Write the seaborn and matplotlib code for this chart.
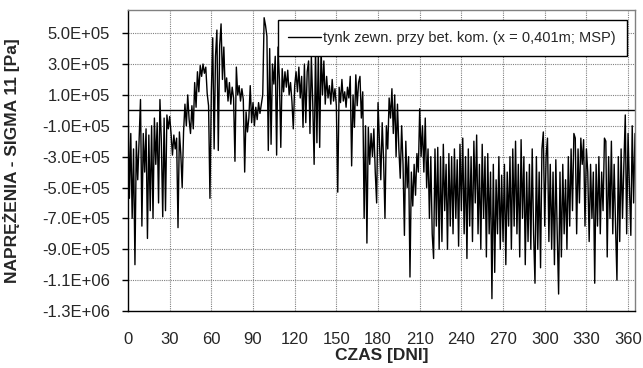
import numpy as np
import pandas as pd
import matplotlib
matplotlib.use("Agg")
import matplotlib.pyplot as plt
import seaborn as sns

# stress values in units of 1e5 Pa, one value per day (day 0 .. 365)
sigma_e5 = [
    0.9, -5.7, -1.5, -7.0, -2.5, -10.0, -2.0, -4.5, -1.8, 0.7,
    -7.5, -1.5, -4.0, -1.2, -8.3, -1.6, -6.5, -1.0, -7.0, -0.5,
    -3.5, -0.8, -6.0, 0.7, -2.0, -6.9, -0.5, -6.5, -0.3, -1.2,
    -0.4, -1.5, -2.9, -1.6, -2.5, -1.8, -7.6, -1.4, -2.8, -5.0,
    -1.4, 0.4, -1.0, 1.0, -0.6, -1.5, 0.3, -1.2, 1.8, 0.2,
    2.5, 1.2, 2.9, 2.2, 3.0, 2.4, 2.8, 1.1, 0.3, -5.7,
    1.2, 4.7, -2.5, 3.5, 5.2, -2.6, 4.2, 5.6, 2.0, 4.1,
    1.2, 2.1, 0.6, 1.8, 0.4, 1.5, 0.8, -3.3, 2.8, 1.0,
    1.6, 0.6, 1.4, 0.7, -4.0, -0.1, -1.4, -0.5, 1.6, -0.8,
    0.5, -1.0, 0.2, -0.6, 0.5, -0.2, 0.4, 1.0, 6.0, 5.5,
    4.8, -2.6, 4.0, -2.2, 3.0, 1.7, 3.5, -2.9, 4.1, 2.0,
    -2.4, 2.7, 1.2, 2.5, 1.5, 2.6, 1.0, 1.8, 0.6, -1.2,
    1.6, 2.5, 1.2, 2.8, 0.8, 2.2, -1.1, 3.0, -0.8, 2.5,
    3.2, -1.5, 3.5, 0.5, -3.5, 4.0, -2.1, 3.8, -2.4, 4.0,
    1.0, 3.2, 0.4, 2.2, 0.8, 1.6, 0.4, 2.0, 0.6, 1.4,
    0.3, -5.3, 1.5, 0.5, 2.0, 0.6, 1.2, 0.2, 1.5, 0.8,
    2.2, -3.6, 1.0, -1.1, 2.3, 0.3, 1.8, 2.2, -0.5, 1.2,
    -7.0, -1.0, -8.6, -1.1, -3.5, -1.5, -3.0, -1.2, -4.0, -6.0,
    0.5, -2.0, -4.5, -0.8, -3.2, -7.0, -1.0, -2.5, 0.8, -0.5,
    1.4, -1.5, 1.0, -3.0, 0.4, -2.5, -4.4, -1.0, -3.5, -8.1,
    -2.0, -5.0, -3.0, -10.8, -4.0, -6.2, -3.5, -5.5, -2.8, -4.0,
    0.1, -3.0, -1.0, -4.0, -0.5, -5.0, -2.5, -7.0, -3.0, -8.0,
    -9.6, -2.5, -7.5, -2.4, -9.0, -3.0, -8.5, -2.2, -6.5, -3.5,
    -9.0, -2.8, -7.5, -3.0, -8.0, -2.5, -7.0, -3.2, -8.8, -2.2,
    -6.5, -1.8, -8.0, -3.0, -9.6, -2.5, -7.5, -3.0, -8.5, -2.0,
    -6.0, -1.6, -8.0, -3.5, -9.0, -2.2, -7.0, -3.0, -9.5, -2.8,
    -8.0, -4.0, -12.2, -3.5, -10.5, -4.5, -8.0, -3.0, -9.0, -4.2,
    -8.5, -3.5, -10.0, -4.0, -7.5, -3.0, -9.0, -2.5, -7.5, -2.0,
    -8.0, -3.5, -9.5, -1.9, -7.0, -3.0, -10.0, -4.0, -8.5, -3.5,
    -9.0, -2.5, -8.0, -11.2, -3.0, -9.0, -4.0, -10.2, -2.5, -1.4,
    -7.5, -3.0, -1.8, -8.5, -3.5, -9.0, -4.0, -10.0, -3.2, -8.0,
    -11.9, -4.0, -9.5, -3.5, -8.0, -4.5, -9.0, -3.0, -7.5, -2.5,
    -6.5, -1.5, -1.8, -8.0, -2.5, -6.0, -1.8, -3.5, -1.9, -7.5,
    -2.5, -4.0, -8.5, -3.5, -7.0, -4.0, -11.2, -3.5, -7.5, -3.0,
    -8.0, -4.0, -6.5, -1.8, -2.0, -9.5, -3.0, -7.0, -2.0, -8.0,
    -3.5, -7.5, -11.0, -3.0, -8.5, -2.5, -7.0, -3.5, -0.3, -8.0,
    -1.5, -5.0, -8.1, -1.0, -6.0, -1.5,
]
days = list(range(len(sigma_e5)))

x_ticks = [0, 30, 60, 90, 120, 150, 180, 210, 240, 270, 300, 330, 360]
y_ticks = [5e5, 3e5, 1e5, -1e5, -3e5, -5e5, -7e5, -9e5, -1.1e6, -1.3e6]
y_tick_labels = ["5.0E+05", "3.0E+05", "1.0E+05", "-1.0E+05", "-3.0E+05",
                 "-5.0E+05", "-7.0E+05", "-9.0E+05", "-1.1E+06", "-1.3E+06"]
series_label = "tynk zewn. przy bet. kom. (x = 0,401m; MSP)"
x_title = "CZAS [DNI]"
y_title = "NAPRĘŻENIA - SIGMA 11 [Pa]"

df = pd.DataFrame({"day": days, "sigma": np.array(sigma_e5) * 1e5})

sns.set_style("white")
plt.rcParams["font.family"] = ["Liberation Sans", "DejaVu Sans"]

fig = plt.figure(figsize=(6.43, 3.68), dpi=100)
ax = fig.add_axes([128 / 643, 1 - 311 / 368, (635 - 128) / 643, (311 - 10) / 368])

grid_kw = dict(color="#808080", linewidth=0.8, linestyle=(0, (1, 1)), zorder=0)
for xv in x_ticks[1:]:
    ax.axvline(xv, **grid_kw)
for yv in y_ticks[:-1]:
    ax.axhline(yv, **grid_kw)
ax.axhline(0, color="black", linewidth=1.0, zorder=1)

sns.lineplot(data=df, x="day", y="sigma", ax=ax, color="black",
             linewidth=1.0, label=series_label, zorder=2)

ax.set_xlim(0, 365)
ax.set_ylim(-1.3e6, 6.5e5)
ax.set_xticks(x_ticks)
ax.set_xticklabels([str(v) for v in x_ticks], fontsize=12)
ax.set_yticks(y_ticks)
ax.set_yticklabels(y_tick_labels, fontsize=12)
ax.tick_params(axis="x", length=0, pad=15)
ax.tick_params(axis="y", length=4, width=1, color="black", direction="out", pad=9, left=True)

for side in ["left", "bottom"]:
    ax.spines[side].set_color("black")
    ax.spines[side].set_linewidth(1.0)
for side in ["top", "right"]:
    ax.spines[side].set_color("#808080")
    ax.spines[side].set_linewidth(1.0)

ax.set_xlabel(x_title, fontsize=12.5, fontweight="bold", labelpad=1)
ax.set_ylabel(y_title, fontsize=12.5, fontweight="bold")
ax.yaxis.set_label_coords(-0.213, 0.5)

leg = ax.legend(loc="upper right", bbox_to_anchor=((627 - 128) / 507, (311 - 20) / 301),
                fontsize=10.5, frameon=True, fancybox=False, framealpha=1,
                edgecolor="black", handlelength=2.2, handletextpad=0.2,
                borderpad=0.75, borderaxespad=0)
leg.get_frame().set_linewidth(1.0)
leg.set_zorder(5)

fig.savefig("out.png", dpi=100)
